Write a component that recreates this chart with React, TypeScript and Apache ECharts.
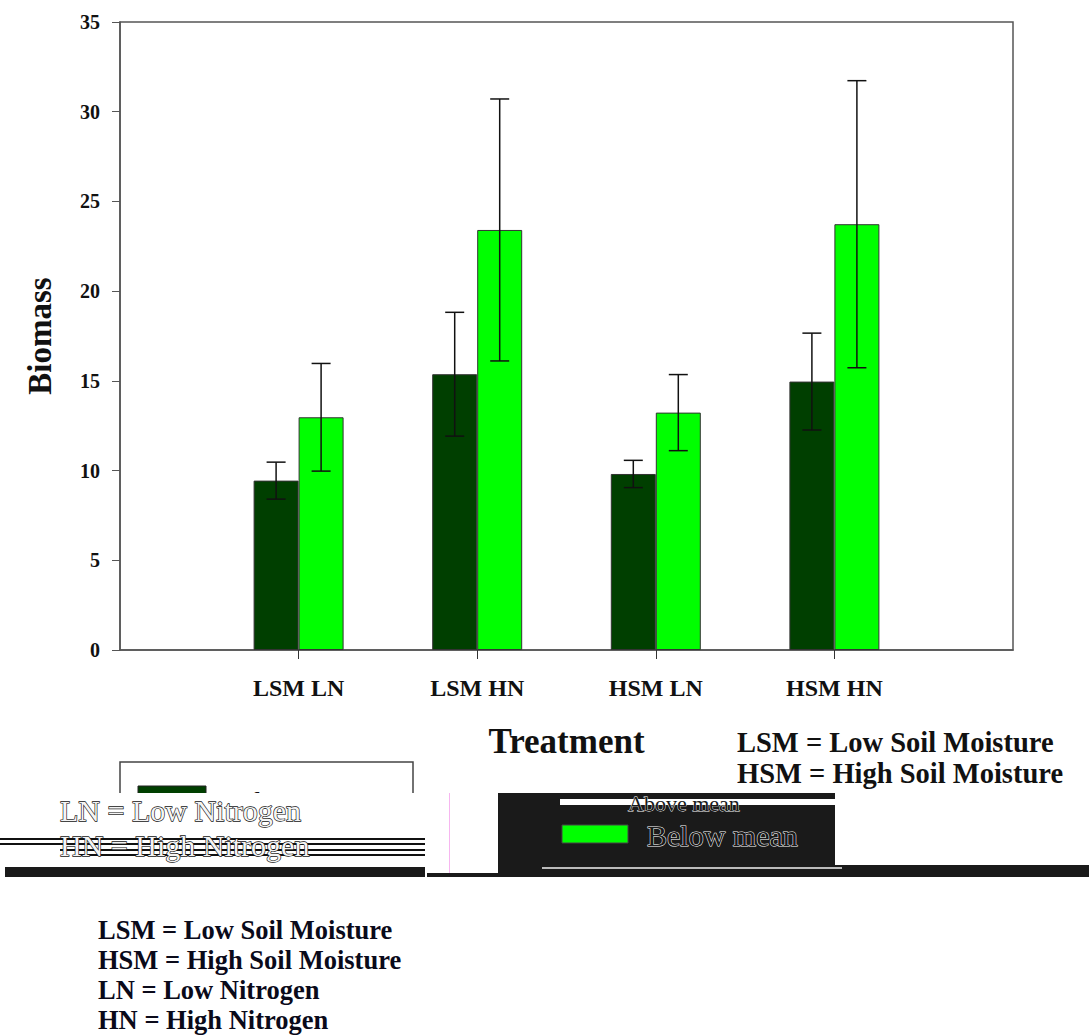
import React, { useEffect, useRef } from "react";
import * as echarts from "echarts";

const categories = ["", "LSM LN", "LSM HN", "HSM LN", "HSM HN", ""];
const aboveMean = [null, 9.44, 15.37, 9.81, 14.96, null];
const belowMean = [null, 12.97, 23.41, 13.23, 23.73, null];
const aboveErr = [0, 1.03, 3.45, 0.76, 2.7, 0];
const belowErr = [0, 3.0, 7.3, 2.12, 8.0, 0];
const yTicks = [0, 5, 10, 15, 20, 25, 30, 35];
const notes = [
  "LSM = Low Soil Moisture",
  "HSM = High Soil Moisture",
  "LN = Low Nitrogen",
  "HN = High Nitrogen",
];

const SERIF = "'Liberation Serif', 'Times New Roman', serif";
const DARK = "#003f00";
const LIGHT = "#00ff00";

function errData(vals: (number | null)[], errs: number[]) {
  const out: number[][] = [];
  vals.forEach((v, i) => {
    if (v != null) out.push([i, v - errs[i], v + errs[i]]);
  });
  return out;
}

function errSeries(data: number[][], offset: number) {
  return {
    type: "custom",
    z: 5,
    data,
    encode: { x: 0, y: [1, 2] },
    renderItem: (params: any, api: any) => {
      const x = api.coord([api.value(0), 0])[0] + offset;
      const lo = api.coord([api.value(0), api.value(1)])[1];
      const hi = api.coord([api.value(0), api.value(2)])[1];
      const cap = 9.5;
      const st = { stroke: "#111", lineWidth: 1.5 };
      return {
        type: "group",
        children: [
          { type: "line", shape: { x1: x, y1: lo, x2: x, y2: hi }, style: st },
          { type: "line", shape: { x1: x - cap, y1: hi, x2: x + cap, y2: hi }, style: st },
          { type: "line", shape: { x1: x - cap, y1: lo, x2: x + cap, y2: lo }, style: st },
        ],
      };
    },
  };
}

export default function App() {
  const ref = useRef<HTMLDivElement>(null);
  useEffect(() => {
    if (!ref.current) return;
    const chart = echarts.init(ref.current, null, { renderer: "svg" });
    const txt = (
      text: string,
      x: number,
      y: number,
      size: number,
      weight: string,
      fill: string,
      z: number,
      extra: any = {}
    ) => ({
      type: "text",
      x,
      y,
      z,
      style: {
        text,
        fontSize: size,
        fontWeight: weight,
        fontFamily: SERIF,
        fill,
        verticalAlign: "middle",
        ...extra,
      },
    });
    const rect = (x: number, y: number, w: number, h: number, fill: string, z: number, extra: any = {}) => ({
      type: "rect",
      z,
      shape: { x, y, width: w, height: h },
      style: { fill, ...extra },
    });
    const graphic: any[] = [
      // top-right notes
      txt(notes[0], 737, 742, 28.5, "bold", "#111", 10),
      txt(notes[1], 737, 773, 28.5, "bold", "#111", 10),
      // legend box (partially covered)
      rect(120, 762, 293, 80, "#fff", 10, { stroke: "#444", lineWidth: 1.5 }),
      rect(138, 786, 68, 16, DARK, 11, { stroke: "#222", lineWidth: 1 }),
      txt("Above mean", 233, 801, 30, "normal", "#111", 11),
      // white glitch band
      rect(0, 793, 425, 74, "#fff", 20),
      txt("LN = Low Nitrogen", 60, 810, 30, "normal", "#f4f4f4", 22, { stroke: "#111", lineWidth: 1.3 }),
      rect(0, 838, 425, 2, "#111", 21),
      rect(0, 843, 425, 2, "#111", 21),
      rect(60, 849, 365, 2, "#111", 21),
      rect(75, 854, 350, 2, "#111", 21),
      txt("HN = High Nitrogen", 60, 845, 30, "normal", "#f4f4f4", 22, { stroke: "#111", lineWidth: 1.3 }),
      rect(5, 867, 420, 10, "#1a1a1a", 21),
      // pink vertical thin line
      rect(449, 793, 1, 80, "#f7b6f0", 21),
      // black block
      rect(498, 793, 337, 82, "#1a1a1a", 21),
      rect(560, 799, 275, 6, "#fff", 22),
      txt("Above mean", 628, 803, 22, "normal", "#1a1a1a", 23, { stroke: "#fff", lineWidth: 0.8 }),
      rect(562, 825, 66, 18, LIGHT, 23, { stroke: "#444", lineWidth: 1 }),
      txt("Below mean", 647, 835, 30, "normal", "#1a1a1a", 23, { stroke: "#fff", lineWidth: 1 }),
      // bottom band
      rect(427, 873, 662, 4, "#1a1a1a", 21),
      rect(835, 865, 254, 12, "#1a1a1a", 21),
      rect(542, 867, 300, 2, "#bbb", 24),
      // bottom notes
      ...notes.map((n, i) => txt(n, 98, 930 + i * 30, 26.5, "bold", "#0a0a1a", 10)),
    ];
    chart.setOption({
      animation: false,
      backgroundColor: "#fff",
      grid: {
        left: 120,
        right: 76,
        top: 22,
        bottom: 386,
        show: true,
        borderColor: "#555",
        borderWidth: 1.5,
      },
      xAxis: {
        type: "category",
        data: categories,
        boundaryGap: false,
        name: "Treatment",
        nameLocation: "middle",
        nameGap: 74,
        nameTextStyle: { fontFamily: SERIF, fontWeight: "bold", fontSize: 35, color: "#111" },
        axisLine: { lineStyle: { color: "#555", width: 1.5 } },
        axisTick: {
          show: true,
          length: 9,
          interval: (i: number) => i > 0 && i < categories.length - 1,
          lineStyle: { color: "#333" },
        },
        axisLabel: {
          interval: 0,
          margin: 26,
          fontFamily: SERIF,
          fontWeight: "bold",
          fontSize: 24,
          color: "#111",
        },
        splitLine: { show: false },
      },
      yAxis: {
        type: "value",
        min: 0,
        max: 35,
        interval: 5,
        name: "Biomass",
        nameLocation: "middle",
        nameGap: 64,
        nameRotate: 90,
        nameTextStyle: { fontFamily: SERIF, fontWeight: "bold", fontSize: 33, color: "#111" },
        axisLine: { show: true, lineStyle: { color: "#555", width: 1.5 } },
        axisTick: { show: true, length: 8, lineStyle: { color: "#555" } },
        axisLabel: {
          margin: 20,
          fontFamily: SERIF,
          fontWeight: "bold",
          fontSize: 20,
          color: "#111",
          formatter: (v: number) => (yTicks.includes(v) ? String(v) : ""),
        },
        splitLine: { show: false },
      },
      series: [
        {
          name: "Above mean",
          type: "bar",
          data: aboveMean,
          barWidth: 45,
          barGap: "0%",
          itemStyle: { color: DARK, borderColor: "#333", borderWidth: 1 },
        },
        {
          name: "Below mean",
          type: "bar",
          data: belowMean,
          barWidth: 45,
          barGap: "0%",
          itemStyle: { color: LIGHT, borderColor: "#333", borderWidth: 1 },
        },
        errSeries(errData(aboveMean, aboveErr), -22.5),
        errSeries(errData(belowMean, belowErr), 22.5),
      ],
      graphic,
    });
    return () => chart.dispose();
  }, []);
  return (
    <div
      ref={ref}
      style={{ position: "absolute", left: 0, top: 0, width: 1089, height: 1036 }}
    />
  );
}
